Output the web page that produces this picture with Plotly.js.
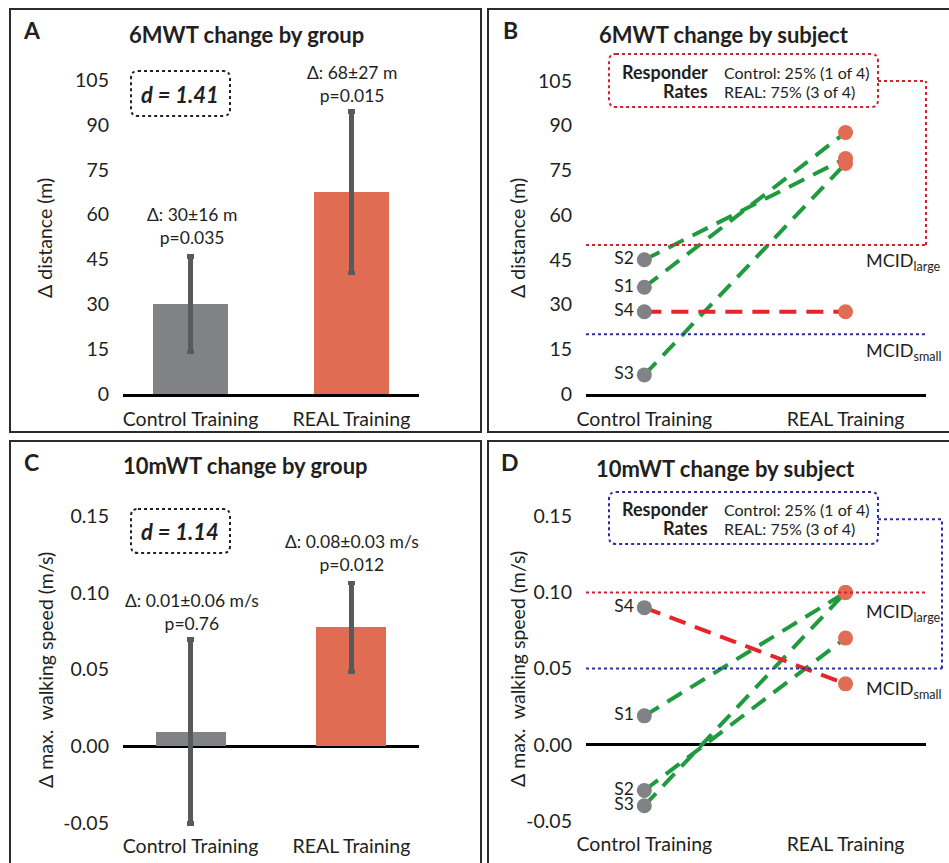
<!DOCTYPE html>
<html>
<head>
<meta charset="utf-8">
<script src="https://cdn.plot.ly/plotly-3.0.1.min.js"></script>
<style>html,body{margin:0;padding:0;background:#fff;}#chart{width:949px;height:863px;}</style>
</head>
<body>
<div id="chart"></div>
<script>
// ---------- data ----------
const groups = ['Control Training', 'REAL Training'];
const subjects = ['S1', 'S2', 'S3', 'S4'];

const sixMean = [30, 67.5];
const sixErr = [16, 27];
const sixCtrl = [35.8, 45, 6.4, 27.6];
const sixReal = [87.7, 79, 77.3, 27.6];
const sixResponder = [true, true, true, false];
const sixMcid = [20, 50];           // small, large
const sixTicks = [0, 15, 30, 45, 60, 75, 90, 105];
const sixStats = ['Δ: 30±16 m<br>p=0.035', 'Δ: 68±27 m<br>p=0.015'];
const sixD = 'd = 1.41';

const tenMean = [0.0095, 0.0775];
const tenErr = [0.06, 0.029];
const tenCtrl = [0.019, -0.03, -0.04, 0.09];
const tenReal = [0.10, 0.07, 0.10, 0.04];
const tenResponder = [true, true, true, false];
const tenMcid = [0.05, 0.10];       // small, large
const tenTicks = [-0.05, 0, 0.05, 0.10, 0.15];
const tenStats = ['Δ: 0.01±0.06 m/s<br>p=0.76', 'Δ: 0.08±0.03 m/s<br>p=0.012'];
const tenD = 'd = 1.14';

const respLines = ['Control: 25% (1 of 4)', 'REAL: 75% (3 of 4)'];

// ---------- styling ----------
const W = 949, H = 863;
const FONT = 'Lato, "Open Sans", sans-serif';
const TXT = '#231f20';
const GRAY = '#808285', ORANGE = '#e06c53', ERR = '#58595b';
const GREEN = '#1f9a3e', RED = '#e8232b';
const RED_DOT = '#d3202f', BLUE_DOT = '#2d2ea6';
const fx = p => p / W;
const fy = p => 1 - p / H;

function xax(l, r, range, anchor, line) {
  return {domain: [fx(l), fx(r)], range: range, type: 'category', categoryarray: groups,
    anchor: anchor, showgrid: false, zeroline: false, showline: line, linecolor: '#000', linewidth: 3,
    ticks: '', ticklabelstandoff: 6, tickfont: {size: 19.5, color: TXT, family: FONT}, fixedrange: true};
}
function yax(top, bottom, range, ticks, digits, anchor, zl) {
  return {domain: [fy(bottom), fy(top)], range: range, tickvals: ticks,
    ticktext: ticks.map(v => v.toFixed(digits)), anchor: anchor,
    showgrid: false, zeroline: zl, zerolinecolor: '#000', zerolinewidth: 3, showline: false,
    ticks: '', ticklabelstandoff: 13, tickfont: {size: 19.5, color: TXT, family: FONT}, fixedrange: true};
}

const traces = [];
// bars
traces.push({type: 'bar', x: groups, y: sixMean, xaxis: 'x', yaxis: 'y', width: 0.466,
  marker: {color: [GRAY, ORANGE]},
  error_y: {type: 'data', array: sixErr, visible: true, color: ERR, thickness: 4.5, width: 3.5}});
traces.push({type: 'bar', x: groups, y: tenMean, xaxis: 'x3', yaxis: 'y3', width: 0.435,
  marker: {color: [GRAY, ORANGE]},
  error_y: {type: 'data', array: tenErr, visible: true, color: ERR, thickness: 4.5, width: 3.5}});

function subjectTraces(ctrl, real, resp, xa, ya) {
  subjects.forEach((s, i) => {
    traces.push({type: 'scatter', mode: 'lines', x: groups, y: [ctrl[i], real[i]], xaxis: xa, yaxis: ya,
      line: {color: resp[i] ? GREEN : RED, width: 4, dash: '17px,10px'}, hoverinfo: 'skip'});
  });
  traces.push({type: 'scatter', mode: 'markers+text', x: subjects.map(() => groups[0]), y: ctrl,
    text: subjects, textposition: 'middle left', textfont: {size: 17.5, color: TXT, family: FONT},
    xaxis: xa, yaxis: ya, marker: {size: 15, color: GRAY}, cliponaxis: false});
  traces.push({type: 'scatter', mode: 'markers', x: subjects.map(() => groups[1]), y: real,
    xaxis: xa, yaxis: ya, marker: {size: 15, color: ORANGE}, cliponaxis: false});
}
subjectTraces(sixCtrl, sixReal, sixResponder, 'x2', 'y2');
subjectTraces(tenCtrl, tenReal, tenResponder, 'x4', 'y4');

// ---------- shapes ----------
const shapes = [];
// panel borders
[[10, 9, 481, 432], [488, 9, 952, 432], [10, 441, 481, 867], [488, 441, 952, 867]].forEach(b => {
  shapes.push({type: 'rect', xref: 'paper', yref: 'paper', x0: fx(b[0]), x1: fx(b[2]), y0: fy(b[3]), y1: fy(b[1]),
    line: {color: '#2b2b2b', width: 2}});
});
function roundBox(l, t, r, b, rad, color) {
  const X = fx, Y = fy;
  const p = `M ${X(l + rad)},${Y(t)} L ${X(r - rad)},${Y(t)} Q ${X(r)},${Y(t)} ${X(r)},${Y(t + rad)} ` +
    `L ${X(r)},${Y(b - rad)} Q ${X(r)},${Y(b)} ${X(r - rad)},${Y(b)} L ${X(l + rad)},${Y(b)} ` +
    `Q ${X(l)},${Y(b)} ${X(l)},${Y(b - rad)} L ${X(l)},${Y(t + rad)} Q ${X(l)},${Y(t)} ${X(l + rad)},${Y(t)} Z`;
  shapes.push({type: 'path', xref: 'paper', yref: 'paper', path: p, line: {color: color, width: 2, dash: 'dot'}});
}
roundBox(131, 71, 230, 116, 7, '#222');
roundBox(131, 509, 230, 553, 7, '#222');
roundBox(609, 54, 878, 107, 7, RED_DOT);
roundBox(609, 492, 878, 544, 7, BLUE_DOT);

function dotLine(xref, yref, x0, x1, y0, y1, color) {
  shapes.push({type: 'line', xref: xref, yref: yref, x0: x0, x1: x1, y0: y0, y1: y1,
    line: {color: color, width: 2, dash: 'dot'}});
}
// 6MWT MCID lines
dotLine('x2 domain', 'y2', 0, 1, sixMcid[0], sixMcid[0], BLUE_DOT);
dotLine('x2 domain', 'y2', 0, 1, sixMcid[1], sixMcid[1], RED_DOT);
dotLine('x2 domain', 'y2', 1, 1, sixMcid[1], 105, RED_DOT);
dotLine('paper', 'y2', fx(878), fx(926), 105, 105, RED_DOT);
// 10mWT MCID lines
dotLine('x4 domain', 'y4', 0, 1, tenMcid[1], tenMcid[1], RED_DOT);
dotLine('x4 domain', 'y4', 0, (942 - 586) / 340, tenMcid[0], tenMcid[0], BLUE_DOT);
dotLine('x4 domain', 'y4', (942 - 586) / 340, (942 - 586) / 340, tenMcid[0], 0.148, BLUE_DOT);
dotLine('paper', 'y4', fx(878), fx(942), 0.148, 0.148, BLUE_DOT);

// ---------- annotations ----------
const ann = [];
function T(x, y, text, size, opts) {
  ann.push(Object.assign({xref: 'paper', yref: 'paper', x: fx(x), y: fy(y), text: text, showarrow: false,
    xanchor: 'center', yanchor: 'middle', font: {size: size, color: TXT, family: FONT}}, opts || {}));
}
// letters
T(32, 30, '<b>A</b>', 23); T(510, 30, '<b>B</b>', 23);
T(32, 462, '<b>C</b>', 23); T(510, 462, '<b>D</b>', 23);
// titles
T(246, 35, '<b>6MWT change by group</b>', 22);
T(724, 35, '<b>6MWT change by subject</b>', 22);
T(245, 465, '<b>10mWT change by group</b>', 22);
T(725, 468, '<b>10mWT change by subject</b>', 22);
// axis titles
T(45, 238, 'Δ distance (m)', 19.5, {textangle: -90});
T(518, 238, 'Δ distance (m)', 19.5, {textangle: -90});
T(45, 670, 'Δ max.  walking speed (m/s)', 19.5, {textangle: -90});
T(517, 669, 'Δ max.  walking speed (m/s)', 19.5, {textangle: -90});
// d boxes
T(180, 94, '<b><i>' + sixD + '</i></b>', 22);
T(180, 531, '<b><i>' + tenD + '</i></b>', 22);
// stats above bars
T(192, 226, sixStats[0], 17.5, {align: 'center'});
T(352, 84, sixStats[1], 17.5, {align: 'center'});
T(192, 612, tenStats[0], 17.5, {align: 'center'});
T(352, 553, tenStats[1], 17.5, {align: 'center'});
// responder boxes
[[72, 91], [509, 528]].forEach(r => {
  T(710, r[0], '<b>Responder</b>', 18, {xanchor: 'right'});
  T(710, r[1], '<b>Rates</b>', 18, {xanchor: 'right'});
  T(722, r[0], respLines[0], 16, {xanchor: 'left'});
  T(722, r[1], respLines[1], 16, {xanchor: 'left'});
});
// MCID labels
T(864, 262, 'MCID<sub>large</sub>', 18, {xanchor: 'left'});
T(864, 351, 'MCID<sub>small</sub>', 18, {xanchor: 'left'});
T(864, 612, 'MCID<sub>large</sub>', 18, {xanchor: 'left'});
T(864, 689, 'MCID<sub>small</sub>', 18, {xanchor: 'left'});

const layout = {
  width: W, height: H, margin: {l: 0, r: 0, t: 0, b: 0},
  paper_bgcolor: '#fff', plot_bgcolor: 'rgba(0,0,0,0)', showlegend: false,
  font: {family: FONT, color: TXT},
  xaxis: xax(123, 419, [-0.42, 1.42], 'y', true),
  yaxis: yax(65, 394, [0, 110], sixTicks, 0, 'x', false),
  xaxis2: xax(586, 926, [-0.29, 1.40], 'y2', true),
  yaxis2: yax(66, 394, [0, 110], sixTicks, 0, 'x2', false),
  xaxis3: xax(123, 419, [-0.42, 1.42], 'y3', false),
  yaxis3: yax(501, 826, [-0.052, 0.16], tenTicks, 2, 'x3', true),
  xaxis4: xax(586, 926, [-0.29, 1.40], 'y4', false),
  yaxis4: yax(501, 824, [-0.052, 0.16], tenTicks, 2, 'x4', true),
  shapes: shapes, annotations: ann, bargap: 0
};
Plotly.newPlot('chart', traces, layout, {staticPlot: true, displayModeBar: false});
</script>
</body>
</html>
